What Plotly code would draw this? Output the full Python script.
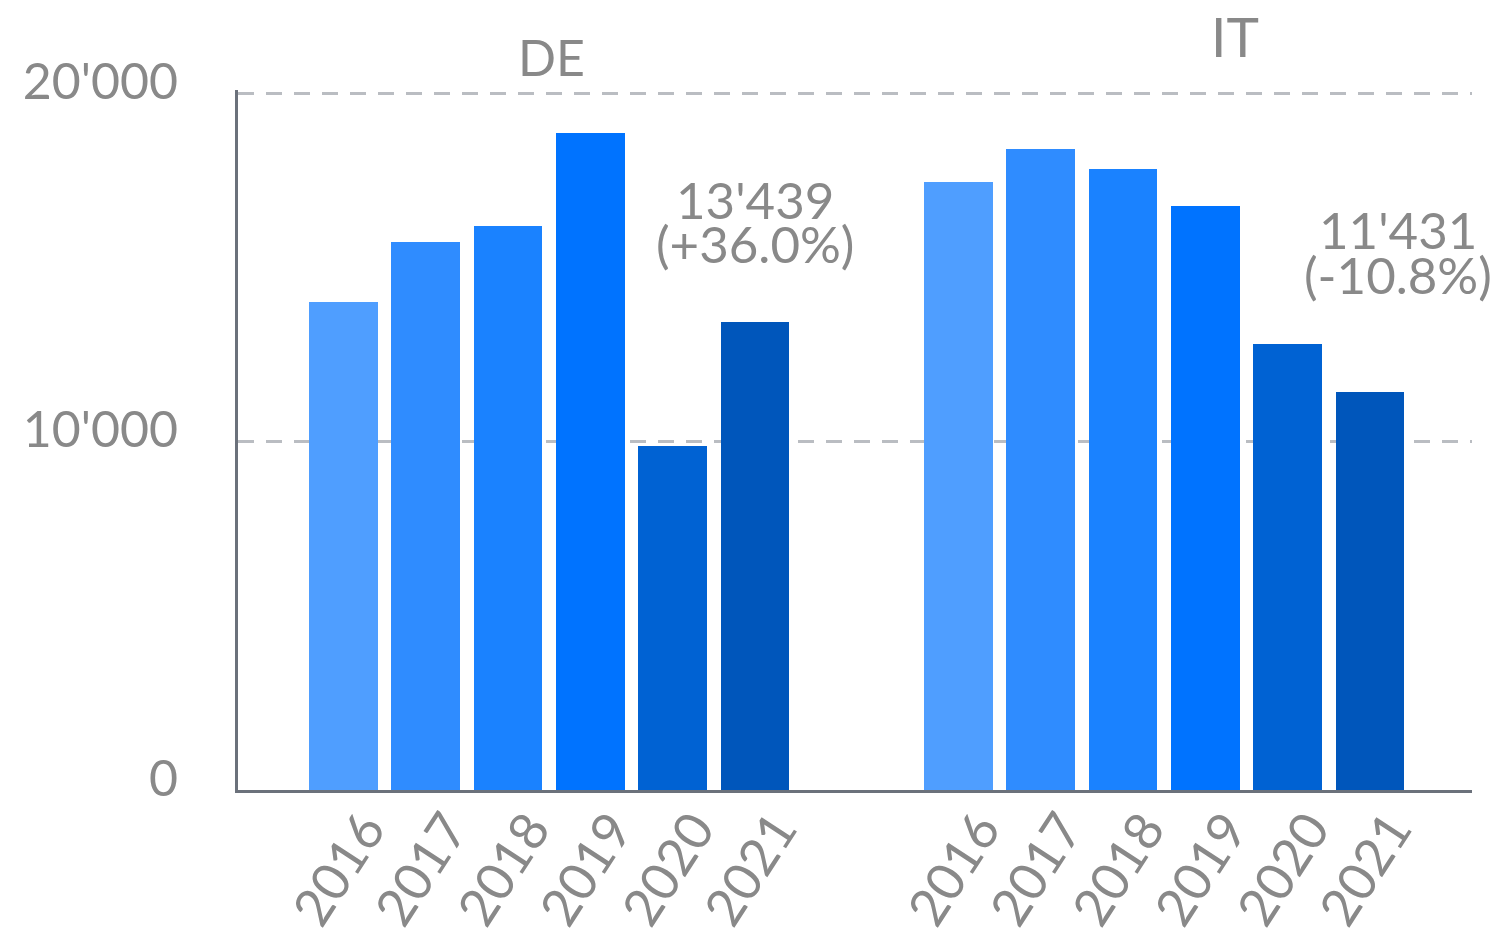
import plotly.graph_objects as go

# ---- data ----
years = ["2016", "2017", "2018", "2019", "2020", "2021"]
countries = ["DE", "IT"]
de_values = [14010, 15740, 16200, 18860, 9882, 13439]
it_values = [17470, 18400, 17820, 16780, 12815, 11431]
y_tick_values = [0, 10000, 20000]
y_tick_labels = ["0", "10'000", "20'000"]

# ---- styles ----
year_colors = ["#4f9eff", "#2f8cff", "#1a82ff", "#0073ff", "#0062d3", "#0056bb"]
group_starts = [0.0, 7.47]
bar_width = 0.834
text_color = "#898989"
axis_color = "#6b717b"
grid_color = "#babdc2"
font_family = "Lato, 'Open Sans', sans-serif"

series = {"DE": de_values, "IT": it_values}

fig = go.Figure()
tick_x, tick_txt = [], []
for ci, c in enumerate(countries):
    xs = [group_starts[ci] + i for i in range(len(years))]
    tick_x += xs
    tick_txt += years
    fig.add_trace(go.Bar(
        x=xs, y=series[c], width=bar_width,
        marker=dict(color=year_colors, line=dict(width=0)),
        name=c, showlegend=False, hoverinfo="x+y",
    ))

def fmt(v):
    return f"{v:,}".replace(",", "'")

# group label and last-value annotation styles (pixel offsets)
group_label_style = {
    "DE": dict(dx=0.03, yshift=1, size=50),
    "IT": dict(dx=0.86, yshift=19, size=55),
}
value_label_style = {
    "DE": dict(xshift=0, y1=122, y2=78),
    "IT": dict(xshift=28, y1=162, y2=117),
}

annotations = []
for ci, c in enumerate(countries):
    vals = series[c]
    center = group_starts[ci] + (len(years) - 1) / 2
    gs = group_label_style[c]
    annotations.append(dict(
        x=center + gs["dx"], xref="x", y=1, yref="paper", yanchor="bottom",
        yshift=gs["yshift"], text=c, showarrow=False,
        font=dict(size=gs["size"], color=text_color, family=font_family),
    ))
    last_x = group_starts[ci] + len(years) - 1
    pct = (vals[-1] / vals[-2] - 1) * 100
    vs = value_label_style[c]
    annotations.append(dict(
        x=last_x, y=vals[-1], xref="x", yref="y", xanchor="center", yanchor="middle",
        xshift=vs["xshift"], yshift=vs["y1"], text=fmt(vals[-1]), showarrow=False,
        font=dict(size=51, color=text_color, family=font_family),
    ))
    annotations.append(dict(
        x=last_x, y=vals[-1], xref="x", yref="y", xanchor="center", yanchor="middle",
        xshift=vs["xshift"], yshift=vs["y2"], text=f"({pct:+.1f}%)", showarrow=False,
        font=dict(size=51, color=text_color, family=font_family),
    ))

fig.update_layout(
    width=1493, height=938,
    margin=dict(l=238, r=21, t=90, b=148, autoexpand=False),
    paper_bgcolor="white", plot_bgcolor="white",
    font=dict(family=font_family, color=text_color),
    bargap=0,
    annotations=annotations,
    xaxis=dict(
        range=[-1.281, 13.71], automargin=False,
        tickvals=tick_x, ticktext=tick_txt, tickangle=-57,
        tickfont=dict(size=52, color=text_color, family=font_family),
        showgrid=False, zeroline=False,
        showline=True, linecolor=axis_color, linewidth=3,
        ticks="", ticklabelshift=22, ticklabelstandoff=-15, fixedrange=True,
    ),
    yaxis=dict(
        range=[0, 20100], automargin=False,
        tickvals=y_tick_values, ticktext=y_tick_labels,
        tickfont=dict(size=50, color=text_color, family=font_family),
        showgrid=True, gridcolor=grid_color, gridwidth=3, griddash="16px,12px",
        zeroline=False, showline=True, linecolor=axis_color, linewidth=3,
        ticks="", ticklabelstandoff=47, ticklabelshift=-12,
    ),
)

fig.write_html(
    "out.html",
    config={"displayModeBar": False},
    post_script="document.body.style.margin='0';document.body.style.overflow='hidden';",
)
